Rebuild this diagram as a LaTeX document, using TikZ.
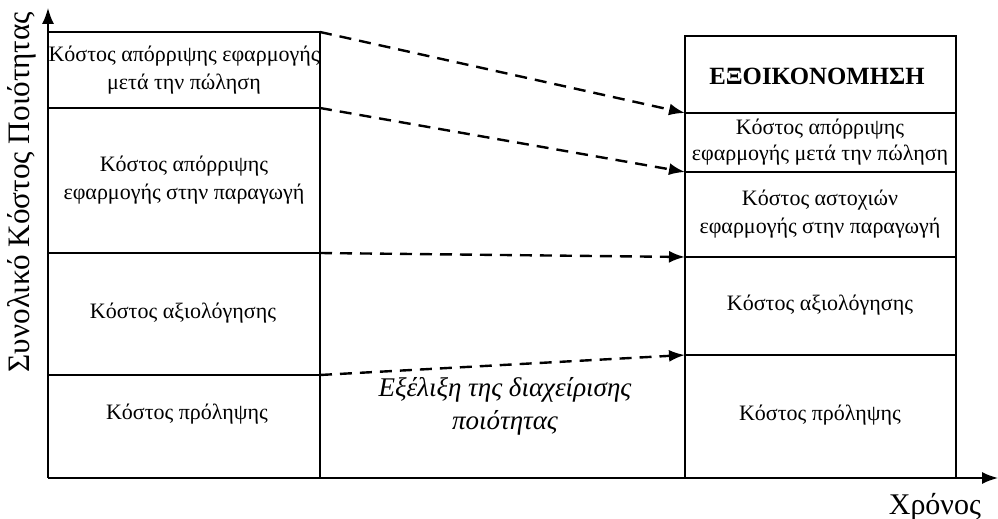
\documentclass[tikz,border=0pt]{standalone}
\usepackage{fontspec}
\setmainfont{Liberation Serif}
\usetikzlibrary{positioning, arrows.meta}
\tikzset{x=0.5pt, y=-0.5pt, % one unit is one pixel of the scanned figure
costbox/.style={ % Sets the properties for the column lines
draw, thick},
costtext/.style={ % Text inside the columns
align=center, inner sep=0pt,
font=\fontsize{11}{14}\selectfont},
shiftarrow/.style={ % Dashed shift from old to new column
draw, very thick, dash pattern=on 6pt off 4pt,
-{Latex[length=8pt,width=6pt]}},
axis/.style={ % The two axes
draw, thick, -{Latex[length=8pt,width=6pt]}}}

\begin{document}
\begin{tikzpicture}
    \useasboundingbox (0,0) rectangle (998,519);

    % axes
    \coordinate (O) at (48,478);
    \coordinate (ytop) at (48,8);
    \coordinate (xend) at (998,478);
    \draw[axis] (O) -- (ytop);
    \draw[axis] (O) -- (xend);
    \node[rotate=90, font=\fontsize{15.6}{18}\selectfont] (ylab) at (22,192) {Συνολικό Κόστος Ποιότητας};
    \node[font=\fontsize{15}{18}\selectfont, anchor=north east] (xlab) at (988,486) {Χρόνος};

    % old column
    \coordinate (l0) at (320,32);
    \coordinate (l1) at (320,108);
    \coordinate (l2) at (320,253);
    \coordinate (l3) at (320,375);
    \draw[costbox] (48,32) -- (l0) -- (320,478);
    \draw[costbox] (48,108) -- (l1);
    \draw[costbox] (48,253) -- (l2);
    \draw[costbox] (48,375) -- (l3);

    \node[costtext] (oldsale) at (184,70) {Κόστος απόρριψης εφαρμογής\\μετά την πώληση};
    \node[costtext] (oldprod) at (184,180) {Κόστος απόρριψης\\εφαρμογής στην παραγωγή};
    \node[costtext] (oldeval) at (183,313) {Κόστος αξιολόγησης};
    \node[costtext] (oldprev) at (187,414) {Κόστος πρόληψης};

    % new column
    \coordinate (r0) at (685,113);
    \coordinate (r1) at (685,172);
    \coordinate (r2) at (685,257);
    \coordinate (r3) at (685,355);
    \draw[costbox] (685,36) rectangle (956,478);
    \draw[costbox, very thick] (685,36) rectangle (956,113);
    \draw[costbox] (r1) -- (956,172);
    \draw[costbox] (r2) -- (956,257);
    \draw[costbox] (r3) -- (956,355);

    \node[costtext, font=\fontsize{12.4}{15}\selectfont\bfseries] (saving) at (817,76) {ΕΞΟΙΚΟΝΟΜΗΣΗ};
    \node[costtext, font=\fontsize{11}{12.6}\selectfont] (newsale) at (820,142) {Κόστος απόρριψης\\εφαρμογής μετά την πώληση};
    \node[costtext] (newprod) at (820,214) {Κόστος αστοχιών\\εφαρμογής στην παραγωγή};
    \node[costtext] (neweval) at (820,305) {Κόστος αξιολόγησης};
    \node[costtext] (newprev) at (820,415) {Κόστος πρόληψης};

    % shifts
    \draw[shiftarrow] (l0) -- (r0);
    \draw[shiftarrow] (l1) -- (r1);
    \draw[shiftarrow] (l2) -- (r2);
    \draw[shiftarrow] (l3) -- (r3);

    \node[costtext, font=\fontsize{13.5}{16.5}\selectfont\itshape] (evol) at (505,406) {Εξέλιξη της διαχείρισης\\ποιότητας};

\end{tikzpicture}
\end{document}
